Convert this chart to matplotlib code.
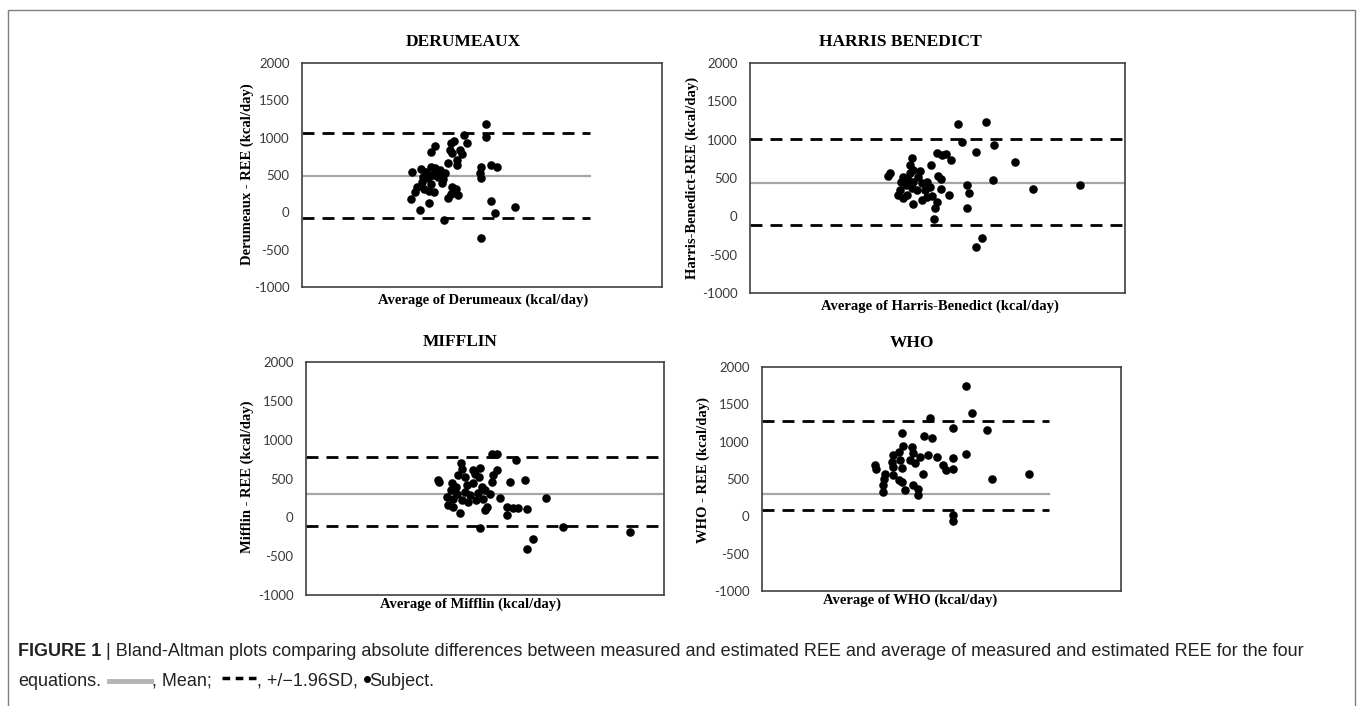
import matplotlib
matplotlib.use("Agg")
import matplotlib.pyplot as plt
from matplotlib.lines import Line2D
from matplotlib.patches import Rectangle

# ---------------- data ----------------
yticks = [-1000, -500, 0, 500, 1000, 1500, 2000]

der_x = [1837, 1837, 1620, 1647, 1490, 1520, 1580, 1597, 1480, 1500, 1330, 1287, 1547, 1463, 1547,
         1787, 1780, 1787, 1887, 1953, 1097, 1187, 1240, 1287, 1330, 1380, 1213, 1263, 1313, 1363,
         1413, 1197, 1287, 1147, 1220, 1273, 1320, 1130, 1397, 1430, 1247, 1347, 1497, 1540, 1563,
         1463, 1487, 1090, 1273, 1180, 1887, 2130, 1930, 1420, 1787]
der_y = [1183, 1004, 1035, 924, 924, 955, 834, 781, 834, 790, 888, 812, 700, 665, 633,
         602, 531, 455, 633, 611, 544, 575, 544, 611, 589, 566, 477, 455, 500, 477,
         441, 410, 379, 343, 317, 290, 272, 276, 397, 522, 513, 531, 334, 312, 232,
         187, 241, 174, 129, 31, 156, 76, -5, -103, -349]
der_mean, der_upper, der_lower = 482, 1058, -80

hb_x = [2083, 2360, 2117, 2440, 2257, 2650, 1867, 1917, 1957, 2010, 1617, 1807, 1400, 1383, 1600,
        1633, 1700, 1883, 1910, 2433, 2173, 2193, 2173, 2833, 3300, 1993, 1910, 1533, 1583, 1507,
        1560, 1633, 1683, 1717, 1767, 1800, 1750, 1667, 1617, 1500, 1483, 1533, 1633, 1717, 1767,
        1817, 1867, 1850, 1567, 1600, 1840, 2317, 2257]
hb_y = [1201, 1231, 971, 928, 833, 711, 828, 798, 811, 733, 755, 668, 560, 525, 668,
        603, 594, 525, 482, 473, 408, 300, 113, 351, 408, 278, 351, 516, 473, 451,
        408, 451, 516, 430, 451, 386, 343, 343, 365, 343, 278, 234, 161, 213, 247,
        265, 191, 104, 278, 560, -39, -286, -394]
hb_mean, hb_upper, hb_lower = 440, 1004, -108

mif_x = [1857, 1913, 2097, 1547, 1740, 1667, 1913, 1557, 1523, 1590, 1690, 1733, 1873, 1857, 1323,
         1333, 1457, 1500, 1607, 1673, 1757, 2040, 2190, 1447, 1507, 1590, 1640, 1723, 1790, 1840,
         1407, 1473, 1557, 1623, 1700, 1773, 1940, 2400, 1423, 1473, 1807, 1790, 1540, 2013, 2013,
         2073, 2123, 2213, 1740, 2567, 2273, 2207, 3240]
mif_y = [821, 821, 744, 701, 641, 615, 606, 628, 542, 521, 564, 521, 542, 456, 486,
         456, 444, 392, 414, 444, 392, 456, 478, 349, 306, 328, 285, 315, 349, 298,
         264, 242, 221, 199, 221, 242, 255, 255, 157, 135, 135, 92, 58, 127, 28,
         114, 122, 101, -143, -130, -280, -413, -190]
mif_mean, mif_upper, mif_lower = 305, 780, -112

who_x = [2040, 2097, 1680, 1907, 2247, 1397, 1620, 1697, 2040, 1413, 1497, 1313, 1373, 1513, 1580,
         1663, 1747, 1913, 1297, 1380, 1480, 1530, 1813, 1840, 1913, 1130, 1137, 1313, 1397, 1613,
         1230, 1313, 1373, 1220, 2297, 2670, 1213, 1430, 1397, 1513, 1563, 1563, 1207, 1913, 1913]
who_y = [1741, 1384, 1317, 1187, 1160, 1120, 1071, 1049, 839, 942, 928, 817, 861, 852, 794,
         826, 794, 781, 727, 750, 750, 718, 683, 616, 638, 683, 638, 660, 647, 571,
         571, 558, 482, 504, 495, 571, 415, 348, 460, 415, 370, 290, 326, 15, -60]
who_mean, who_upper, who_lower = 300, 1282, 80

panels = [
    # title, ylabel, xlabel, x, y, mean, up, low, xmax, line_end
    ("DERUMEAUX", "Derumeaux - REE (kcal/day)", "Average of Derumeaux (kcal/day)",
     der_x, der_y, der_mean, der_upper, der_lower, 3600, 2880),
    ("HARRIS BENEDICT", "Harris-Benedict-REE (kcal/day)", "Average of Harris-Benedict (kcal/day)",
     hb_x, hb_y, hb_mean, hb_upper, hb_lower, 3750, 3750),
    ("MIFFLIN", "Mifflin - REE (kcal/day)", "Average of Mifflin (kcal/day)",
     mif_x, mif_y, mif_mean, mif_upper, mif_lower, 3580, 3580),
    ("WHO", "WHO - REE (kcal/day)", "Average of WHO (kcal/day)",
     who_x, who_y, who_mean, who_upper, who_lower, 3590, 2870),
]

# ---------------- layout (pixels) ----------------
W, H = 1358, 706
fig = plt.figure(figsize=(W / 100, H / 100), dpi=100)

boxes = [(302, 63, 662, 287), (750, 63, 1125, 293), (306, 362, 664, 595), (762, 367, 1121, 591)]
title_pos = [(463, 42), (900, 42), (460, 342), (912, 343)]
ylab_pos = [(247, 174), (692, 178), (247, 477), (703, 470)]
xlab_pos = [(483, 300), (940, 306), (470, 604), (910, 600)]

serif = ["Liberation Serif", "DejaVu Serif"]
sans = ["Lato", "DejaVu Sans"]

for (l, t, r, b), tp, yp, xp, p in zip(boxes, title_pos, ylab_pos, xlab_pos, panels):
    title, ylab, xlab, xs, ys, mean, up, low, xmax, lend = p
    ax = fig.add_axes([l / W, 1 - b / H, (r - l) / W, (b - t) / H])
    ax.set_xlim(0, xmax)
    ax.set_ylim(-1000, 2000)
    ax.set_yticks(yticks)
    ax.set_yticklabels([str(v) for v in yticks], family=sans, fontsize=9.5, color="#3a3a3a")
    ax.set_xticks([])
    ax.tick_params(axis="y", length=0, pad=9)
    for s in ax.spines.values():
        s.set_color("#404040")
        s.set_linewidth(1.2)
    ax.plot([0, lend], [up, up], color="black", lw=2.0, dashes=(4.3, 2.9), solid_capstyle="butt")
    ax.plot([0, lend], [low, low], color="black", lw=2.0, dashes=(4.3, 2.9), solid_capstyle="butt")
    ax.plot([0, lend], [mean, mean], color="#a6a6a6", lw=1.6)
    ax.scatter(xs, ys, s=38, color="black", zorder=3, linewidths=0)

    fig.text(tp[0] / W, 1 - tp[1] / H, title, ha="center", va="center",
             family=serif, fontweight="bold", fontsize=12.5)
    fig.text(yp[0] / W, 1 - yp[1] / H, ylab, ha="center", va="center", rotation=90,
             family=serif, fontweight="bold", fontsize=10.5)
    fig.text(xp[0] / W, 1 - xp[1] / H, xlab, ha="center", va="center",
             family=serif, fontweight="bold", fontsize=10.5)

# outer frame
fig.patches.append(Rectangle((8 / W, -0.05), (1355 - 8) / W, 1 - 10 / H + 0.05,
                             transform=fig.transFigure, fill=False,
                             edgecolor="#7f7f7f", lw=1.0))

# ---------------- caption ----------------
cap_font = ["Liberation Sans Narrow", "Liberation Sans", "DejaVu Sans"]
cap_fs = 13
renderer = fig.canvas.get_renderer()


def put(x, y, s, **kw):
    t = fig.text(x / W, 1 - y / H, s, ha="left", va="center", family=cap_font,
                 fontsize=cap_fs, color="#222222", **kw)
    bb = t.get_window_extent(renderer)
    return bb.x1


x = put(18, 651, "FIGURE 1", fontweight="bold")
x = put(x + 5, 651, "| Bland-Altman plots comparing absolute differences between measured and "
        "estimated REE and average of measured and estimated REE for the four")

y2 = 681
x = put(18, y2, "equations.")
fig.add_artist(Line2D([(x + 8) / W, (x + 50) / W], [1 - y2 / H] * 2, color="#b4b4b4", lw=3.5))
x = put(x + 51, y2, ", Mean; ")
fig.add_artist(Line2D([(x + 5) / W, (x + 39) / W], [1 - (y2 - 3) / H] * 2, color="black",
                      lw=2.5, dashes=(2.2, 1.6)))
x = put(x + 40, y2, ", +/\u22121.96SD, ")
fig.add_artist(Line2D([(x + 4) / W], [1 - (y2 - 2) / H], marker="o", color="black",
                      markersize=4, lw=0))
x = put(x + 7, y2, "Subject.")

fig.savefig("out.png", dpi=100)
